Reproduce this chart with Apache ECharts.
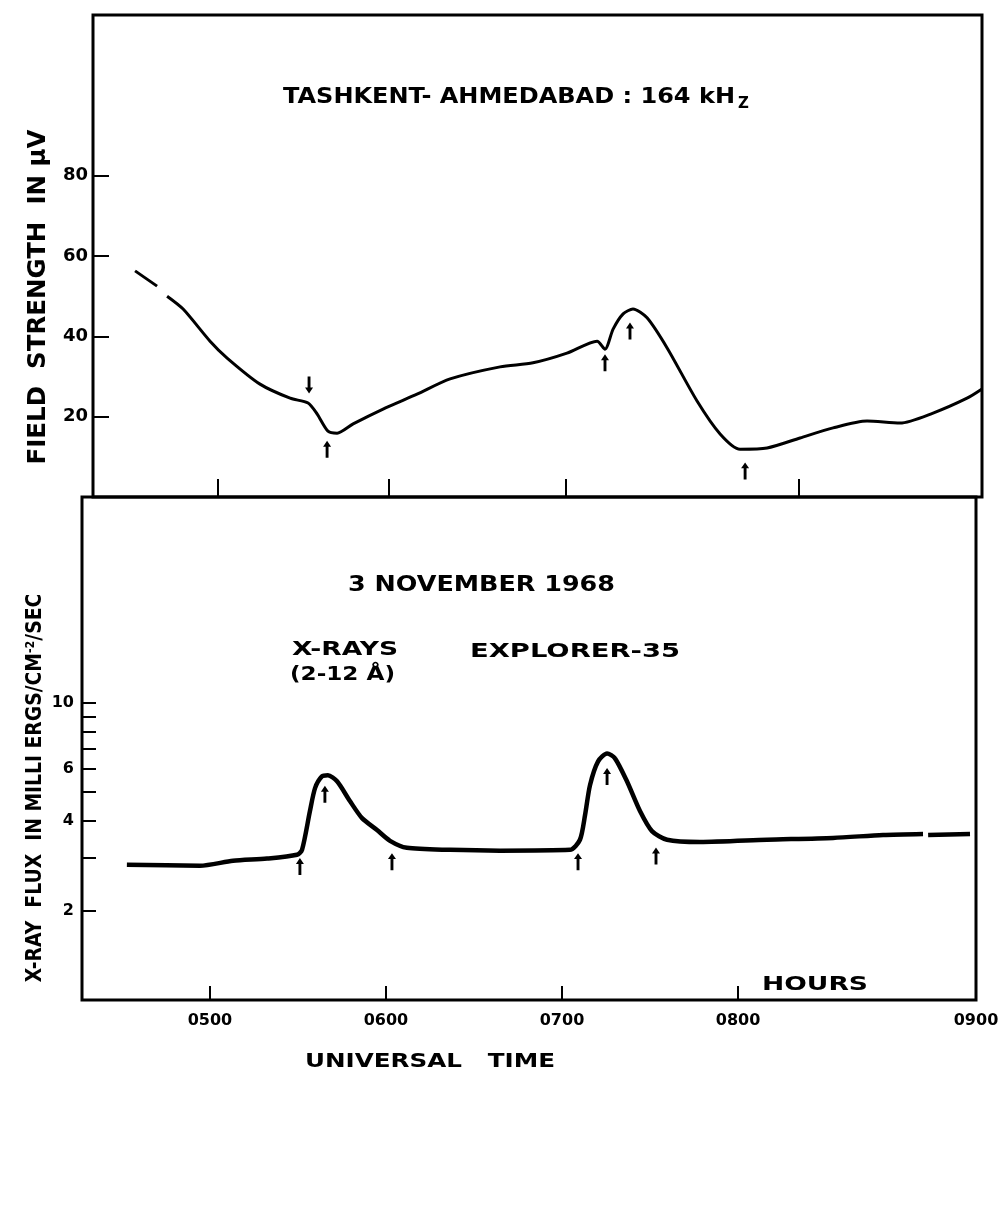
<!DOCTYPE html>
<html><head><meta charset="utf-8">
<script src="https://cdn.jsdelivr.net/npm/echarts@6/dist/echarts.min.js"></script>
<style>html,body{margin:0;padding:0;background:#fff}#c{width:1006px;height:1221px}</style>
</head><body><div id="c"></div>
<script>
// ---- Top panel: field strength (µV) vs UT hours ----
const fieldHours = [4.574,4.699,4.73,4.756,4.847,5.0,5.097,5.284,5.455,5.557,5.608,5.670,5.722,5.813,5.983,6.176,6.364,6.648,6.835,7.028,7.199,7.244,7.290,7.347,7.403,7.483,7.597,7.767,7.898,8.011,8.165,8.352,8.540,8.733,8.920,9.108,9.301,9.386];
const fieldUV = [56.3,52.5,null,50.0,46.8,38.8,34.6,28.1,24.6,23.4,20.7,16.4,15.9,18.2,21.9,25.6,29.4,32.4,33.4,35.8,38.8,36.8,41.8,45.6,46.8,44.6,37.1,23.9,15.7,11.9,12.2,14.7,17.2,18.9,18.4,20.9,24.6,26.9];
const fieldTicks = [20,40,60,80];
const topTickHours = [5.045,6.017,7.023,8.347];
const topArrowHours = [5.5625,5.665,7.244,7.386,8.040];
const topArrowUV = [27.9,11.9,33.4,41.3,6.5];
const topArrowDir = ['down','up','up','up','up'];

// ---- Bottom panel: X-ray flux (log) vs UT hours ----
const fluxHours = [4.528,4.943,5.131,5.324,5.494,5.523,5.568,5.597,5.636,5.670,5.722,5.795,5.864,5.949,6.023,6.119,6.364,6.648,7.045,7.102,7.131,7.159,7.205,7.256,7.301,7.369,7.443,7.511,7.597,7.784,8.165,8.540,8.824,9.051,9.065,9.080,9.318];
const fluxValues = [2.85,2.83,2.94,2.99,3.08,3.20,4.32,5.16,5.65,5.70,5.44,4.67,4.09,3.73,3.43,3.25,3.20,3.18,3.20,3.46,4.19,5.28,6.35,6.75,6.50,5.44,4.32,3.70,3.46,3.40,3.46,3.51,3.59,3.62,null,3.59,3.62];
const fluxTicks = [2,3,4,5,6,7,8,9,10];
const fluxLabels = [2,4,6,10];
const botArrowHours = [5.511,5.653,6.034,7.091,7.256,7.534];
const botArrowFlux = [2.81,4.92,2.92,2.92,5.65,3.05];

const xTickHours = [5,6,7,8];
const xTickLabels = ['0500','0600','0700','0800','0900'];

// axis extents
const TOP_XMIN = 4.335, TOP_XMAX = 9.386;
const BOT_XMIN = 4.273, BOT_XMAX = 9.352;
const xLabelHours = [5,6,7,8,BOT_XMAX];

const FF = '"DejaVu Sans", sans-serif';
const ARROW = 'path://M5,0 L10,7 L6.8,7 L6.8,20 L3.2,20 L3.2,7 L0,7 Z';

const cv = document.createElement('canvas').getContext('2d');
function fit(text, font, w) { cv.font = font; return w / cv.measureText(text).width; }

function txt(text, font, x, y, width, opts) {
  opts = opts || {};
  const plain = opts.plain || text;
  return {
    type: 'text', x: x, y: y, rotation: opts.rot || 0,
    scaleX: width ? fit(plain, font, width) : 1,
    style: { text: text, font: font, fill: '#000', align: opts.align || 'left', verticalAlign: 'middle', rich: opts.rich }
  };
}

const chart = echarts.init(document.getElementById('c'));
const tickStyle = { color: '#000', width: 2 };
const labelBase = { fontFamily: FF, fontWeight: 'bold', color: '#000' };

chart.setOption({
  backgroundColor: '#fff',
  animation: false,
  grid: [
    { left: 93, top: 15, width: 889, height: 482, show: true, borderColor: '#000', borderWidth: 3 },
    { left: 82, top: 497, width: 894, height: 503, show: true, borderColor: '#000', borderWidth: 3 }
  ],
  xAxis: [
    { gridIndex: 0, type: 'value', min: TOP_XMIN, max: TOP_XMAX,
      axisLine: { show: false }, splitLine: { show: false },
      axisTick: { show: true, inside: true, length: 18, lineStyle: tickStyle, customValues: topTickHours },
      axisLabel: { show: false } },
    { gridIndex: 1, type: 'value', min: BOT_XMIN, max: BOT_XMAX,
      axisLine: { show: false }, splitLine: { show: false },
      axisTick: { show: true, inside: true, length: 14, lineStyle: tickStyle, customValues: xTickHours },
      axisLabel: Object.assign({ customValues: xLabelHours, fontSize: 16, margin: 13,
        formatter: function (v) { const i = xLabelHours.findIndex(h => Math.abs(h - v) < 1e-6); return i >= 0 ? xTickLabels[i] : ''; } }, labelBase) }
  ],
  yAxis: [
    { gridIndex: 0, type: 'value', min: 0, max: 120,
      axisLine: { show: false }, splitLine: { show: false },
      axisTick: { show: true, inside: true, length: 16, lineStyle: tickStyle, customValues: fieldTicks },
      axisLabel: Object.assign({ customValues: fieldTicks, fontSize: 18, margin: 5 }, labelBase) },
    { gridIndex: 1, type: 'log', logBase: 10, min: 1, max: 49.2,
      axisLine: { show: false }, splitLine: { show: false },
      axisTick: { show: true, inside: true, length: 14, lineStyle: tickStyle, customValues: fluxTicks },
      axisLabel: Object.assign({ customValues: fluxLabels, fontSize: 16, margin: 8 }, labelBase) }
  ],
  series: [
    { type: 'line', xAxisIndex: 0, yAxisIndex: 0, showSymbol: false, smooth: 0.25, connectNulls: false,
      lineStyle: { color: '#000', width: 3 },
      data: fieldHours.map((h, i) => [h, fieldUV[i] === null ? '-' : fieldUV[i]]) },
    { type: 'line', xAxisIndex: 1, yAxisIndex: 1, showSymbol: false, smooth: 0.25, connectNulls: false,
      lineStyle: { color: '#000', width: 4.5 },
      data: fluxHours.map((h, i) => [h, fluxValues[i] === null ? '-' : fluxValues[i]]) },
    { type: 'scatter', xAxisIndex: 0, yAxisIndex: 0, symbol: ARROW, symbolSize: [8, 17],
      itemStyle: { color: '#000', opacity: 1 },
      data: topArrowHours.map((h, i) => ({ value: [h, topArrowUV[i]], symbolRotate: topArrowDir[i] === 'down' ? 180 : 0 })) },
    { type: 'scatter', xAxisIndex: 1, yAxisIndex: 1, symbol: ARROW, symbolSize: [8, 17],
      itemStyle: { color: '#000', opacity: 1 },
      data: botArrowHours.map((h, i) => [h, botArrowFlux[i]]) }
  ],
  graphic: [
    txt('TASHKENT- AHMEDABAD : 164 kH', 'bold 22px ' + FF, 283, 97, 452),
    txt('Z', 'bold 15px ' + FF, 738, 104, 0),
    txt('3 NOVEMBER 1968', 'bold 21px ' + FF, 348, 586, 267),
    txt('X-RAYS', 'bold 20px ' + FF, 292, 650, 106),
    txt('(2-12 Å)', 'bold 20px ' + FF, 290, 675, 105),
    txt('EXPLORER-35', 'bold 20px ' + FF, 470, 652, 210),
    txt('HOURS', 'bold 20px ' + FF, 762, 985, 106),
    txt('UNIVERSAL   TIME', 'bold 19px ' + FF, 305, 1062, 250),
    txt('FIELD  STRENGTH  IN μV', 'bold 24px ' + FF, 39, 297, 335, { rot: Math.PI / 2, align: 'center' }),
    txt('X-RAY  FLUX  IN MILLI ERGS/CM{sup|-2}/SEC', 'bold 22px ' + FF, 35, 788, 397,
      { rot: Math.PI / 2, align: 'center', plain: 'X-RAY  FLUX  IN MILLI ERGS/CM-2/SEC',
        rich: { sup: { font: 'bold 13px ' + FF, verticalAlign: 'top' } } })
  ]
});
</script></body></html>
